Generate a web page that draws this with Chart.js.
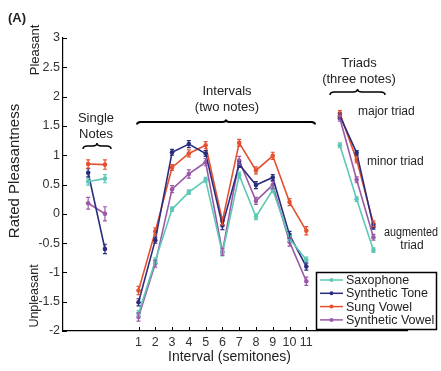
<!DOCTYPE html>
<html>
<head>
<meta charset="utf-8">
<script src="https://cdn.jsdelivr.net/npm/chart.js@4.4.1/dist/chart.umd.min.js"></script>
<style>
  html, body { margin: 0; padding: 0; background: #fff; }
  #wrap { width: 441px; height: 371px; }
</style>
</head>
<body>
<div id="wrap"><canvas id="c" width="441" height="371"></canvas></div>
<script>
// x positions: single notes (-2,-1), intervals 1..11, triads 13..15
const xPositions = [-2, -1, 1, 2, 3, 4, 5, 6, 7, 8, 9, 10, 11, 13, 14, 15];
const seriesNames = ["Saxophone", "Synthetic Tone", "Sung Vowel", "Synthetic Vowel"];
const saxophone     = [0.55, 0.60, -1.70, -0.80, 0.08, 0.37, 0.58, -0.67, 0.66, -0.05, 0.41, -0.42, -0.79, 1.17, 0.25, -0.62];
const syntheticTone = [0.70, -0.60, -1.51, -0.45, 1.05, 1.19, 1.03, -0.20, 0.84, 0.49, 0.62, -0.36, -0.90, 1.67, 1.04, -0.22];
const sungVowel     = [0.85, 0.84, -1.31, -0.30, 0.79, 1.03, 1.17, -0.12, 1.21, 0.74, 0.99, 0.20, -0.29, 1.71, 0.92, -0.17];
const synthVowel    = [0.18, 0.00, -1.76, -0.85, 0.42, 0.68, 0.88, -0.65, 0.91, 0.22, 0.49, -0.48, -1.15, 1.63, 0.58, -0.40];
const saxErr   = [0.06, 0.07, 0.05, 0.05, 0.04, 0.04, 0.04, 0.05, 0.05, 0.05, 0.05, 0.05, 0.05, 0.04, 0.04, 0.04];
const toneErr  = [0.07, 0.08, 0.06, 0.05, 0.05, 0.06, 0.05, 0.07, 0.05, 0.06, 0.05, 0.06, 0.06, 0.05, 0.04, 0.04];
const sungErr  = [0.07, 0.08, 0.07, 0.06, 0.05, 0.06, 0.06, 0.07, 0.06, 0.06, 0.06, 0.06, 0.07, 0.05, 0.05, 0.05];
const vowelErr = [0.10, 0.12, 0.07, 0.06, 0.06, 0.07, 0.06, 0.06, 0.07, 0.06, 0.06, 0.07, 0.07, 0.05, 0.05, 0.05];
const xTickValues = [1, 2, 3, 4, 5, 6, 7, 8, 9, 10, 11];
const yTickValues = [-2, -1.5, -1, -0.5, 0, 0.5, 1, 1.5, 2, 2.5, 3];
const gapAt = [0, 12];

const colors = ["#5ec8b5", "#2b2e7e", "#e4512f", "#9a5aa7"];
const allValues = [saxophone, syntheticTone, sungVowel, synthVowel];
const allErrors = [saxErr, toneErr, sungErr, vowelErr];
const FONT = "'Liberation Sans', Arial, sans-serif";

function buildPoints(vals, errs) {
  const pts = [];
  xPositions.forEach((x, i) => {
    gapAt.forEach(g => { if (pts.length && pts[pts.length - 1].x < g && x > g) pts.push({x: g, y: null}); });
    pts.push({x: x, y: vals[i], e: errs[i]});
  });
  return pts;
}

const datasets = seriesNames.map((name, k) => ({
  label: name,
  data: buildPoints(allValues[k], allErrors[k]),
  borderColor: colors[k],
  backgroundColor: colors[k],
  borderWidth: 1.6,
  pointRadius: 2.3,
  pointBorderWidth: 0,
  spanGaps: false
}));

function brace(ctx, x1, x2, y, h) {
  const m = (x1 + x2) / 2;
  ctx.beginPath();
  ctx.moveTo(x1, y + h);
  ctx.quadraticCurveTo(x1, y, x1 + h * 1.5, y);
  ctx.lineTo(m - h * 1.5, y);
  ctx.quadraticCurveTo(m, y, m, y - h);
  ctx.quadraticCurveTo(m, y, m + h * 1.5, y);
  ctx.lineTo(x2 - h * 1.5, y);
  ctx.quadraticCurveTo(x2, y, x2, y + h);
  ctx.stroke();
}

const extras = {
  id: "extras",
  afterDatasetsDraw(chart) {
    const ctx = chart.ctx, ys = chart.scales.y, xs = chart.scales.x;
    ctx.save();
    // error bars
    chart.data.datasets.forEach((ds, k) => {
      ctx.strokeStyle = colors[k];
      ctx.lineWidth = 1.2;
      ds.data.forEach(p => {
        if (p.y === null) return;
        const px = xs.getPixelForValue(p.x);
        const y1 = ys.getPixelForValue(p.y - p.e), y2 = ys.getPixelForValue(p.y + p.e);
        ctx.beginPath();
        ctx.moveTo(px, y1); ctx.lineTo(px, y2);
        ctx.moveTo(px - 2, y1); ctx.lineTo(px + 2, y1);
        ctx.moveTo(px - 2, y2); ctx.lineTo(px + 2, y2);
        ctx.stroke();
      });
    });
    // inward ticks
    ctx.strokeStyle = "#000";
    ctx.lineWidth = 1;
    ys.ticks.forEach(t => {
      const py = Math.round(ys.getPixelForValue(t.value)) + 0.5;
      ctx.beginPath(); ctx.moveTo(xs.left, py); ctx.lineTo(xs.left + 4, py); ctx.stroke();
    });
    xs.ticks.forEach(t => {
      const px = Math.round(xs.getPixelForValue(t.value)) + 0.5;
      ctx.beginPath(); ctx.moveTo(px, ys.bottom); ctx.lineTo(px, ys.bottom - 4); ctx.stroke();
    });
    ctx.restore();
  },
  afterDraw(chart) {
    const ctx = chart.ctx;
    ctx.save();
    ctx.fillStyle = "#222";
    ctx.textAlign = "center";
    ctx.textBaseline = "middle";
    ctx.font = "bold 13px " + FONT;
    ctx.fillText("(A)", 17, 18);

    const rot = (txt, x, y, size) => {
      ctx.save();
      ctx.translate(x, y); ctx.rotate(-Math.PI / 2);
      ctx.font = size + "px " + FONT;
      ctx.fillText(txt, 0, 0);
      ctx.restore();
    };
    rot("Pleasant", 35, 50, 13);
    rot("Rated Pleasantness", 15, 171, 15);
    rot("Unpleasant", 35, 296, 12.5);

    ctx.font = "13px " + FONT;
    ctx.fillText("Single", 96, 118);
    ctx.fillText("Notes", 96, 134);
    ctx.fillText("Intervals", 227, 91);
    ctx.fillText("(two notes)", 227, 107);
    ctx.fillText("Triads", 359, 63);
    ctx.fillText("(three notes)", 359, 79);

    ctx.font = "12px " + FONT;
    ctx.textAlign = "left";
    ctx.fillText("major triad", 358, 112);
    ctx.fillText("minor triad", 367, 162);
    ctx.save();
    ctx.translate(384, 233); ctx.scale(0.9, 1);
    ctx.fillText("augmented", 0, 0);
    ctx.restore();
    ctx.textAlign = "center";
    ctx.fillText("triad", 412, 246);

    ctx.font = "14px " + FONT;
    ctx.fillText("Interval (semitones)", 229.5, 357);

    ctx.strokeStyle = "#000";
    ctx.lineWidth = 1.5;
    brace(ctx, 83, 111, 146, 3);
    ctx.lineWidth = 2;
    brace(ctx, 137, 315, 122, 2.5);
    ctx.lineWidth = 1.5;
    brace(ctx, 330, 385, 92, 3);

    // legend
    ctx.lineWidth = 1.5;
    ctx.strokeRect(316.5, 272.5, 120, 57);
    ctx.font = "12.5px " + FONT;
    ctx.textAlign = "left";
    seriesNames.forEach((name, k) => {
      const ly = 280 + k * 13.3;
      ctx.strokeStyle = colors[k];
      ctx.fillStyle = colors[k];
      ctx.lineWidth = 1.5;
      ctx.beginPath(); ctx.moveTo(320, ly); ctx.lineTo(343, ly); ctx.stroke();
      ctx.beginPath(); ctx.arc(331.5, ly, 2, 0, Math.PI * 2); ctx.fill();
      ctx.fillStyle = "#222";
      ctx.fillText(name, 346, ly + 0.5);
    });
    ctx.restore();
  }
};

new Chart(document.getElementById("c"), {
  type: "line",
  data: { datasets: datasets },
  options: {
    responsive: false,
    animation: false,
    layout: { padding: { left: 0, right: 34, top: 38, bottom: 0 } },
    plugins: { legend: { display: false }, tooltip: { enabled: false } },
    scales: {
      x: {
        type: "linear",
        min: -3.5,
        max: 17,
        afterBuildTicks: s => { s.ticks = xTickValues.map(v => ({value: v})); },
        afterFit: s => { s.height = 40; },
        grid: { display: true, drawOnChartArea: false, tickLength: 0 },
        border: { display: true, color: "#000", width: 1.2 },
        ticks: { color: "#333", font: { family: FONT, size: 12.5 }, padding: 4, maxRotation: 0, autoSkip: false,
                 callback: v => String(v) }
      },
      y: {
        min: -2,
        max: 3,
        afterBuildTicks: s => { s.ticks = yTickValues.map(v => ({value: v})); },
        afterFit: s => { s.width = 63; },
        grid: { display: true, drawOnChartArea: false, tickLength: 0 },
        border: { display: true, color: "#000", width: 1.2 },
        ticks: { color: "#333", font: { family: FONT, size: 12.5 }, padding: 3, callback: v => String(v) }
      }
    }
  },
  plugins: [extras]
});
</script>
</body>
</html>
